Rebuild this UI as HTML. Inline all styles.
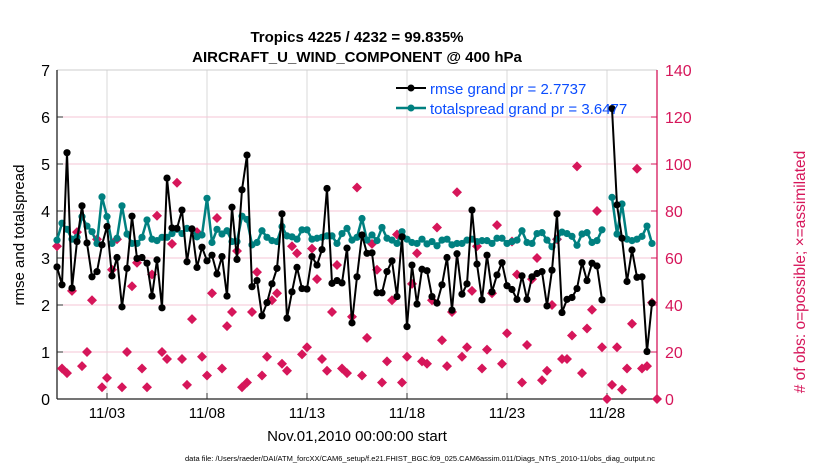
<!DOCTYPE html>
<html><head><meta charset="utf-8">
<style>
body{margin:0;background:#fff;}
svg{display:block;font-family:"Liberation Sans",Arial,sans-serif;}
</style></head>
<body>
<svg id="chart" width="830" height="470" viewBox="0 0 830 470">
<text x="357" y="42" text-anchor="middle" font-size="15" font-weight="bold">Tropics 4225 / 4232 = 99.835%</text>
<text x="357" y="62" text-anchor="middle" font-size="15" font-weight="bold">AIRCRAFT_U_WIND_COMPONENT @ 400 hPa</text>
<text transform="translate(24,235) rotate(-90)" text-anchor="middle" font-size="15">rmse and totalspread</text>
<text transform="translate(805,272) rotate(-90)" text-anchor="middle" font-size="15.5" fill="#d6165a"># of obs: o=possible; ×=assimilated</text>
<text x="357" y="441" text-anchor="middle" font-size="15">Nov.01,2010 00:00:00 start</text>
<text x="420" y="461" text-anchor="middle" font-size="7.5">data file: /Users/raeder/DAI/ATM_forcXX/CAM6_setup/f.e21.FHIST_BGC.f09_025.CAM6assim.011/Diags_NTrS_2010-11/obs_diag_output.nc</text>
<g id="grid"></g>
<g id="axes"></g>
<g id="obs"></g>
<g id="spread"></g>
<g id="rmse"></g>
<g id="legend">
  <line x1="396" y1="88" x2="426" y2="88" stroke="#000" stroke-width="2"/>
  <circle cx="411" cy="88" r="3.5" fill="#000"/>
  <text x="430" y="94" font-size="15" fill="#0b4dff">rmse grand pr = 2.7737</text>
  <line x1="396" y1="108" x2="426" y2="108" stroke="#008080" stroke-width="2.5"/>
  <circle cx="411" cy="108" r="3.5" fill="#008080"/>
  <text x="430" y="114" font-size="15" fill="#0b4dff">totalspread grand pr = 3.6477</text>
</g>
</svg>
<script>
const tickDays=[3,8,13,18,23,28];
const tickLabels=["11/03","11/08","11/13","11/18","11/23","11/28"];
const leftTicks=[0,1,2,3,4,5,6,7];
const rightTicks=[0,20,40,60,80,100,120,140];
const rmse=[2.81,2.43,5.24,2.36,3.35,4.11,3.32,2.60,2.71,3.28,3.67,2.62,3.01,1.96,2.78,3.89,2.99,3.01,2.89,2.19,2.96,1.94,4.70,3.64,3.63,4.02,2.92,3.62,2.80,3.23,2.94,3.06,2.66,3.03,2.19,4.08,2.97,4.45,5.19,2.39,2.52,1.77,2.05,2.45,2.78,3.94,1.72,2.28,2.80,2.35,2.34,3.03,2.85,3.18,4.48,2.46,2.52,2.47,3.21,1.62,2.60,3.49,3.10,3.11,2.26,2.26,2.71,2.94,2.18,3.45,1.54,2.85,2.02,2.76,2.73,2.18,2.04,2.43,3.01,1.89,3.09,2.23,2.45,4.02,2.87,2.11,3.06,2.28,2.64,2.90,2.41,2.33,2.12,2.62,2.12,2.60,2.67,2.71,1.98,2.74,3.94,1.84,2.12,2.16,2.35,2.90,2.52,2.89,2.83,2.11,null,6.18,4.13,3.42,2.50,3.17,2.59,2.60,1.01,2.04];
const spread=[3.38,3.74,3.61,3.40,3.44,3.88,3.68,3.56,3.31,4.30,3.88,3.31,3.42,4.11,3.51,3.31,3.31,3.44,3.81,3.40,3.37,3.44,3.44,3.52,3.61,3.52,3.63,3.61,3.45,3.49,4.27,3.33,3.61,3.51,3.58,3.35,3.35,3.89,3.82,3.28,3.33,3.58,3.44,3.37,3.35,3.67,3.47,3.45,3.40,3.60,3.60,3.40,3.42,3.44,3.47,3.47,3.31,3.52,3.63,3.38,3.44,3.84,3.38,3.49,3.37,3.65,3.42,3.38,3.31,3.56,3.40,3.33,3.31,3.40,3.30,3.35,3.26,3.38,3.40,3.28,3.31,3.31,3.38,3.40,3.35,3.37,3.37,3.31,3.42,3.42,3.31,3.35,3.38,3.58,3.33,3.31,3.52,3.54,3.38,3.24,3.40,3.55,3.52,3.46,3.27,3.51,3.54,3.33,3.37,3.60,null,4.29,3.51,4.15,3.40,3.37,3.40,3.46,3.68,3.31];
const obsCount=[65,13,11,46,71,14,20,42,68,5,9,55,68,5,20,48,58,13,5,53,78,20,17,66,92,17,6,34,71,18,10,45,77,13,31,37,63,5,7,37,54,10,18,42,45,15,12,65,62,19,22,64,51,17,12,37,57,13,11,35,90,10,26,66,55,7,16,42,70,7,18,49,62,16,15,42,73,25,14,37,88,18,22,46,65,13,21,45,74,15,28,67,53,7,23,51,60,8,12,40,68,17,17,27,99,11,30,38,80,22,0,6,22,4,13,32,98,13,14,41,0];

const X0=57,X1=657,Y0=399,Y1=70;
const xs=d=>X0+(d-0.5)/30*(X1-X0);
const ys=v=>Y0-v/7*(Y0-Y1);
const yr=c=>Y0-c/140*(Y0-Y1);
const tDay=i=>0.5+0.25*i;
const NS="http://www.w3.org/2000/svg";
function mk(tag,attrs,parent){const e=document.createElementNS(NS,tag);for(const k in attrs)e.setAttribute(k,attrs[k]);parent.appendChild(e);return e;}
const grid=document.getElementById('grid'),axes=document.getElementById('axes');
tickDays.forEach((d,k)=>{
  const g=mk('line',{x1:xs(d),x2:xs(d),y1:Y1,y2:Y0,stroke:'#d9d9d9','stroke-width':1},grid);
  
  
  const t=mk('text',{x:xs(d),y:418,'text-anchor':'middle','font-size':15},axes);
  t.textContent=tickLabels[k];
  
  
  mk('line',{x1:xs(d),x2:xs(d),y1:Y0,y2:Y0-6,stroke:'#333'},axes);
});
leftTicks.forEach(v=>{
  if(v>0&&v<7){const g=mk('line',{x1:X0,x2:X1,y1:ys(v),y2:ys(v),stroke:'#f4c6d6','stroke-width':1},grid);
  
  }
  const t=mk('text',{x:X0-7,y:ys(v)+6,'text-anchor':'end','font-size':16},axes);
  t.textContent=v;
  
  
  mk('line',{x1:X0,x2:X0+6,y1:ys(v),y2:ys(v),stroke:'#333'},axes);
});
rightTicks.forEach(c=>{
  const t=mk('text',{x:X1+8,y:yr(c)+6,'font-size':16,fill:'#d6165a'},axes);
  t.textContent=c;
  
  
  mk('line',{x1:X1,x2:X1-6,y1:yr(c),y2:yr(c),stroke:'#d6165a'},axes);
});
mk('line',{x1:X0,x2:X1,y1:Y1,y2:Y1,stroke:'#ccc'},axes);
mk('line',{x1:X0,x2:X0,y1:Y1,y2:Y0,stroke:'#222','stroke-width':1.3},axes);
mk('line',{x1:X0,x2:X1,y1:Y0,y2:Y0,stroke:'#222','stroke-width':1.3},axes);
mk('line',{x1:X1,x2:X1,y1:Y1,y2:Y0,stroke:'#d6165a','stroke-width':1.3},axes);

const obs=document.getElementById('obs');
obsCount.forEach((c,i)=>{
  const x=xs(tDay(i)),y=yr(c),s=5;
  const p=mk('path',{d:`M${x},${y-s}L${x+s},${y}L${x},${y+s}L${x-s},${y}Z`,fill:'#d6165a'},obs);
  
  
});
function series(arr,gid,color,w,name){
  const g=document.getElementById(gid);let d='',pen=false;
  arr.forEach((v,i)=>{if(v==null){pen=false;return;}d+=(pen?'L':'M')+xs(tDay(i)).toFixed(1)+','+ys(v).toFixed(1);pen=true;});
  const l=mk('path',{d:d,fill:'none',stroke:color,'stroke-width':w,'stroke-linejoin':'round'},g);
  
  
  arr.forEach((v,i)=>{if(v==null)return;
    const c=mk('circle',{cx:xs(tDay(i)),cy:ys(v),r:3.6,fill:color},g);
    
    
  });
}
series(spread,'spread','#008080',2.5,'totalspread');
series(rmse,'rmse','#000',2,'rmse');
</script>
</body></html>
